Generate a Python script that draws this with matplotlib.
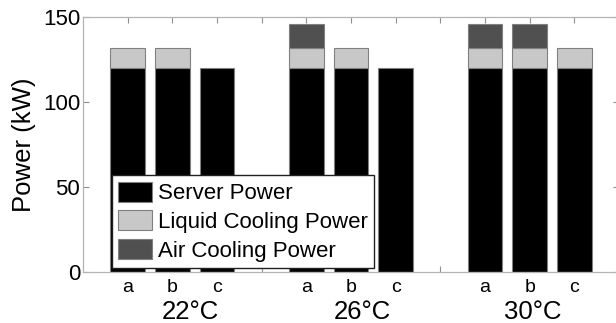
import matplotlib
matplotlib.use("Agg")
import matplotlib.pyplot as plt
from matplotlib.transforms import blended_transform_factory

plt.rcParams['font.family'] = ['Liberation Sans', 'DejaVu Sans']

# Data: three inlet temperatures, three configurations each
groups = ['22°C', '26°C', '30°C']
configs = ['a', 'b', 'c']
server_power = [120, 120, 120, 120, 120, 120, 120, 120, 120]
liquid_cooling = [12, 12, 0, 12, 12, 0, 12, 12, 12]
air_cooling = [0, 0, 0, 14, 0, 0, 14, 14, 0]
series_names = ['Server Power', 'Liquid Cooling Power', 'Air Cooling Power']
series_colors = ['#000000', '#c8c8c8', '#505050']

W, H = 616, 323
fig = plt.figure(figsize=(W / 100, H / 100), dpi=100)
ax = fig.add_axes([83 / W, (H - 272) / H, 536 / W, 255 / H])

# bar positions: groups separated by one empty slot
xs = [g * 4 + i + 1 for g in range(len(groups)) for i in range(len(configs))]
width = 0.78
edge = '#808080'

bottoms = [0] * len(xs)
handles = []
for name, vals, col in zip(series_names, [server_power, liquid_cooling, air_cooling], series_colors):
    px = [x for x, v in zip(xs, vals) if v > 0]
    pv = [v for v in vals if v > 0]
    pb = [b for b, v in zip(bottoms, vals) if v > 0]
    h = ax.bar(px, pv, width=width, bottom=pb, color=col, edgecolor=edge,
               linewidth=0.8, label=name, zorder=2)
    handles.append(h)
    bottoms = [b + v for b, v in zip(bottoms, vals)]

ax.set_xlim(0, 12)
ax.set_ylim(0, 150)
ax.set_yticks([0, 50, 100, 150])

tick_pos = list(range(1, 12))
tick_lab = []
for p in tick_pos:
    if p % 4 == 0:
        tick_lab.append('')
    else:
        tick_lab.append(configs[(p % 4) - 1])
ax.set_xticks(tick_pos)
ax.set_xticklabels(tick_lab, fontsize=14)

for s in ax.spines.values():
    s.set_color('#b4b4b4')
    s.set_linewidth(0.9)
ax.tick_params(axis='both', direction='in', colors='#909090', length=4,
               top=True, right=True, width=0.8)
ax.tick_params(axis='x', labelcolor='black', pad=5)
ax.tick_params(axis='y', labelcolor='black', labelsize=16, pad=2)

ax.set_ylabel('Power (kW)', fontsize=18.5, labelpad=5)

# temperature group labels under each group
trans = blended_transform_factory(ax.transData, ax.transAxes)
group_x = [2.41, 6.25, 10.08]
for gx, g in zip(group_x, groups):
    ax.text(gx, -0.158, g, transform=trans, ha='center', va='center', fontsize=18.5)

leg = ax.legend(handles=handles, loc='lower left',
                bbox_to_anchor=(29 / 536, 4 / 255), borderaxespad=0,
                fontsize=16, handlelength=1.53, handleheight=1.0,
                handletextpad=0.25, labelspacing=0.28, borderpad=0.28,
                fancybox=False, framealpha=1, edgecolor='#202020')
leg.get_frame().set_linewidth(1.0)
leg.set_zorder(5)

fig.savefig('out.png', dpi=100)
